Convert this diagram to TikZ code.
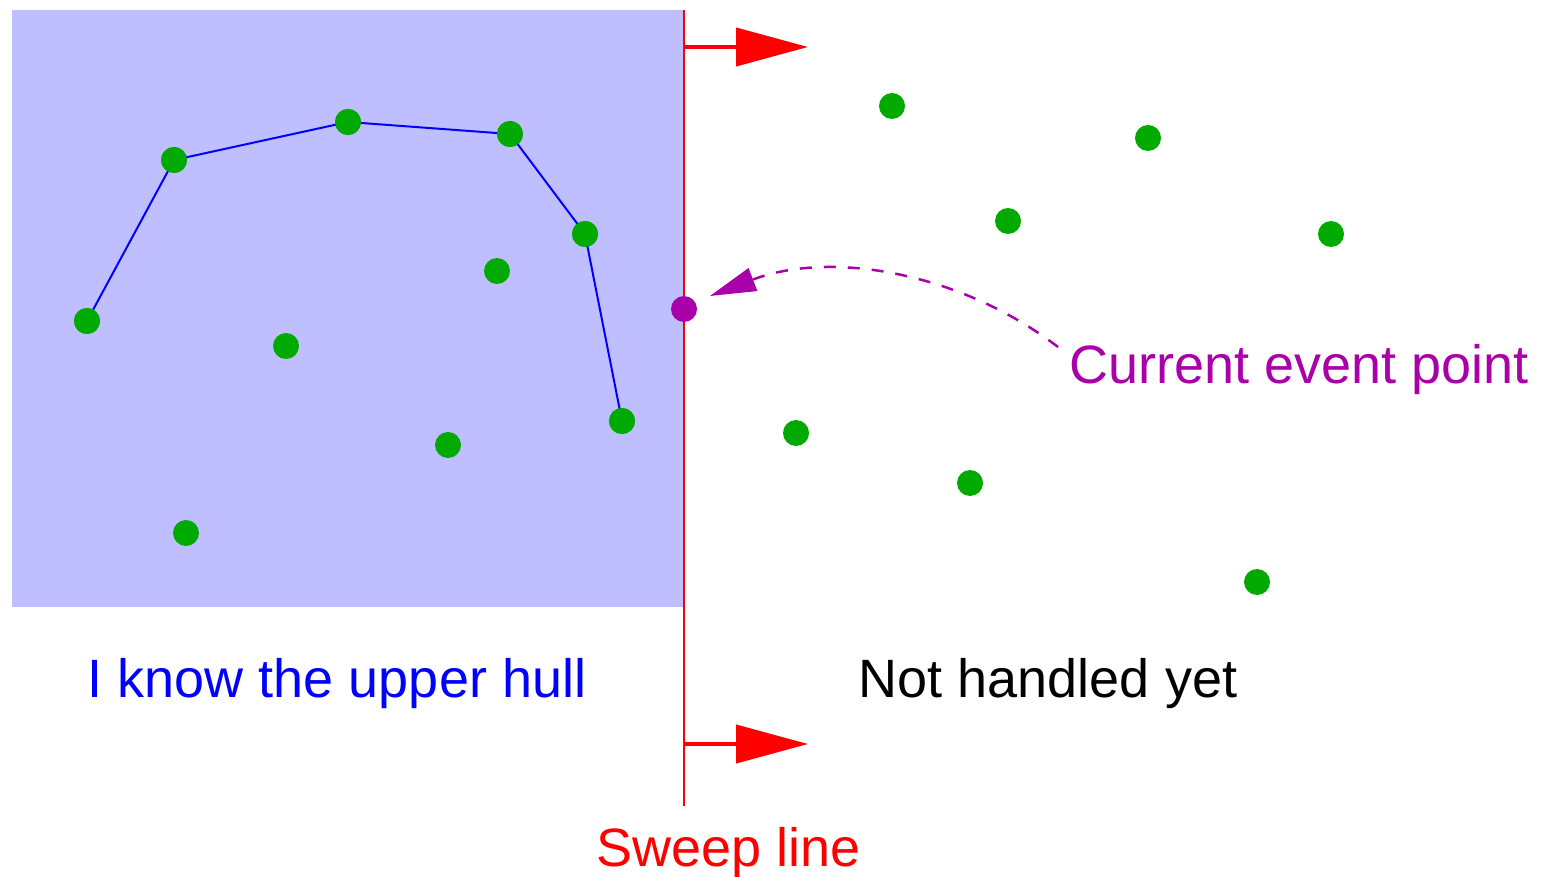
\documentclass[tikz,border=0pt]{standalone}
\usepackage{fontspec}
\setmainfont{Liberation Sans}
\usetikzlibrary{arrows.meta}
\definecolor{hullarea}{RGB}{191,191,255}
\definecolor{dotgreen}{RGB}{0,170,0}
\definecolor{evpurple}{RGB}{170,0,170}
\begin{document}
\begin{tikzpicture}[x=1pt,y=-1pt,
  pt/.style={circle,fill=dotgreen,inner sep=0pt,minimum size=26pt},
  evpt/.style={circle,fill=evpurple,inner sep=0pt,minimum size=26pt},
  hull/.style={draw=blue,line width=2pt},
  lbl/.style={font=\fontsize{54}{60}\selectfont,inner sep=0pt,anchor=base},
  sweeparrow/.style={draw=red,line width=4pt,-{Triangle[length=72pt,width=38pt]}}]
\useasboundingbox (0,0) rectangle (1542,877);
\fill[hullarea] (12,10) rectangle (684,607);
% hull
\node[pt] (h1) at (87,321) {};
\node[pt] (h2) at (174,160) {};
\node[pt] (h3) at (348,122) {};
\node[pt] (h4) at (510,134) {};
\node[pt] (h5) at (585,234) {};
\node[pt] (h6) at (622,421) {};
\draw[hull] (h1.center) -- (h2.center) -- (h3.center) -- (h4.center) -- (h5.center) -- (h6.center);
\foreach \n in {h1,h2,h3,h4,h5,h6} \node[pt] at (\n) {};
% interior points
\node[pt] (i1) at (497,271) {};
\node[pt] (i2) at (286,346) {};
\node[pt] (i3) at (448,445) {};
\node[pt] (i4) at (186,533) {};
% right points
\node[pt] (r1) at (892,106) {};
\node[pt] (r2) at (1148,138) {};
\node[pt] (r3) at (1008,221) {};
\node[pt] (r4) at (1331,234) {};
\node[pt] (r5) at (796,433) {};
\node[pt] (r6) at (970,483) {};
\node[pt] (r7) at (1257,582) {};
% sweep line
\coordinate (stop) at (684,10);
\coordinate (sbot) at (684,806);
\draw[red,line width=2pt] (stop) -- (sbot);
\coordinate (a1s) at (684,47);
\coordinate (a1e) at (808,47);
\coordinate (a2s) at (684,744);
\coordinate (a2e) at (808,744);
\draw[sweeparrow] (a1s) -- (a1e);
\draw[sweeparrow] (a2s) -- (a2e);
% event point
\node[evpt] (ev) at (684,309) {};
\coordinate (cstart) at (1058,347);
\draw[evpurple,line width=2.5pt,dash pattern=on 12pt off 12pt,-{Triangle[length=46pt,width=24pt]}]
  (cstart) .. controls (960,272) and (830,250) .. (710,296);
% labels
\node[lbl,text=blue] (l1) at (337,697) {I know the upper hull};
\node[lbl,text=black] (l2) at (1048,697) {Not handled yet};
\node[lbl,text=red] (l3) at (729,866) {Sweep line};
\node[lbl,text=evpurple] (l4) at (1299,383) {Current event point};
\end{tikzpicture}
\end{document}
